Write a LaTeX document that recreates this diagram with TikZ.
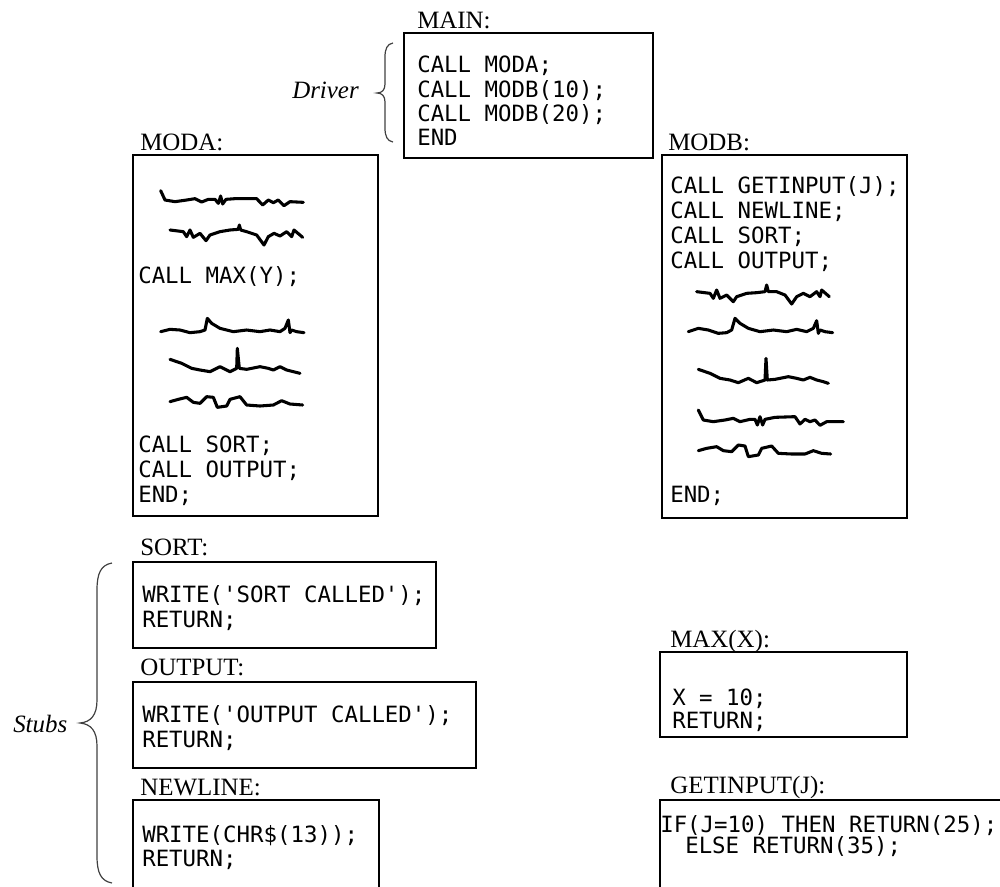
\documentclass[tikz,border=0pt]{standalone}
\usepackage{fontspec}
\setmainfont{Liberation Serif}
\newfontfamily\codefont{DejaVu Sans Mono}
\usetikzlibrary{fit}
\begin{document}
\begin{tikzpicture}[x=0.75pt,y=-0.75pt,
  box/.style={draw, line width=1.8pt, inner sep=0pt},
  code/.style={anchor=base west, inner sep=0pt, font=\codefont\fontsize{16.8}{20}\selectfont},
  lbl/.style={anchor=base west, inner sep=0pt, font=\fontsize{18.7}{22}\selectfont},
  side/.style={anchor=base west, inner sep=0pt, font=\itshape\fontsize{18.7}{22}\selectfont},
  squig/.style={line width=2.3pt, line join=round, line cap=round},
  brace/.style={line width=0.9pt, draw=black!75}]
\useasboundingbox (0,0) rectangle (1000,886);

% boxes
\node[box, fit={(404,33)(653,158)}] (main) {};
\node[box, fit={(133,155)(378,516)}] (moda) {};
\node[box, fit={(662,155)(907,518)}] (modb) {};
\node[box, fit={(133,562)(436,648)}] (sort) {};
\node[box, fit={(133,682)(476,768)}] (output) {};
\node[box, fit={(133,800)(379,892)}] (newline) {};
\node[box, fit={(660,652)(907,737)}] (max) {};
\node[box, fit={(660,800)(1010,892)}] (getinput) {};

% labels
\node[lbl] (lmain) at (417,28) {MAIN:};
\node[lbl] (lmoda) at (140,150) {MODA:};
\node[lbl] (lmodb) at (668,150) {MODB:};
\node[lbl] (lsort) at (140,555) {SORT:};
\node[lbl] (loutput) at (140,675) {OUTPUT:};
\node[lbl] (lnewline) at (140,795) {NEWLINE:};
\node[lbl] (lmax) at (670,647) {MAX(X):};
\node[lbl] (lgetinput) at (670,793) {GETINPUT(J):};
\node[side] (driver) at (292,98) {Driver};
\node[side] (stubs) at (13,732) {Stubs};

% braces
\draw[brace] (393,43) .. controls (387,44) and (385,49) .. (385,57) -- (385,84)
  .. controls (385,90) and (382,93) .. (377,93)
  .. controls (382,93) and (385,96) .. (385,102) -- (385,128)
  .. controls (385,136) and (387,141) .. (393,142);
\draw[brace] (112,563) .. controls (101,565) and (97,573) .. (97,590) -- (97,700)
  .. controls (97,715) and (91,722) .. (80,723)
  .. controls (91,724) and (97,731) .. (97,746) -- (97,856)
  .. controls (97,873) and (101,881) .. (112,883);

% code MAIN
\node[code] (m1) at (417,72) {CALL MODA;};
\node[code] (m2) at (417,97) {CALL MODB(10);};
\node[code] (m3) at (417,121) {CALL MODB(20);};
\node[code] (m4) at (417,145) {END};

% code MODA
\node[code] (a1) at (138,283) {CALL MAX(Y);};
\node[code] (a2) at (138,452) {CALL SORT;};
\node[code] (a3) at (138,477) {CALL OUTPUT;};
\node[code] (a4) at (138,502) {END;};

% code MODB
\node[code] (b1) at (670,193) {CALL GETINPUT(J);};
\node[code] (b2) at (670,218) {CALL NEWLINE;};
\node[code] (b3) at (670,243) {CALL SORT;};
\node[code] (b4) at (670,268) {CALL OUTPUT;};
\node[code] (b5) at (670,502) {END;};

% stubs code
\node[code] (s1) at (142,602) {WRITE('SORT CALLED');};
\node[code] (s2) at (142,627) {RETURN;};
\node[code] (o1) at (142,722) {WRITE('OUTPUT CALLED');};
\node[code] (o2) at (142,747) {RETURN;};
\node[code] (n1) at (142,842) {WRITE(CHR\$(13));};
\node[code] (n2) at (142,866) {RETURN;};
\node[code] (x1) at (672,705) {X = 10;};
\node[code] (x2) at (672,728) {RETURN;};
\node[code] (g1) at (660,832) {IF(J=10) THEN RETURN(25);};
\node[code] (g2) at (685,853) {ELSE RETURN(35);};

% squiggles MODA
\begin{scope}[shift={(120,150)}, x=0.25pt, y=-0.25pt]
\draw[squig] (122,122) -- (135,150) -- (165,155) -- (200,150) -- (225,146) -- (245,156) -- (265,148) -- (285,148) -- (295,160) -- (302,138) -- (308,162) -- (318,148) -- (345,146) -- (410,146) -- (428,165) -- (445,150) -- (460,158) -- (475,150) -- (492,167) -- (510,155) -- (550,157);
\draw[squig] (150,240) -- (190,245) -- (200,260) -- (210,240) -- (220,262) -- (240,250) -- (258,272) -- (270,255) -- (300,245) -- (330,240) -- (355,238) -- (358,225) -- (362,240) -- (380,245) -- (410,255) -- (432,285) -- (445,260) -- (462,250) -- (480,258) -- (500,245) -- (515,260) -- (522,240) -- (548,262);
\draw[squig] (122,545) -- (150,538) -- (180,540) -- (210,548) -- (240,545) -- (255,540) -- (262,505) -- (275,520) -- (300,535) -- (340,545) -- (380,540) -- (420,545) -- (450,540) -- (480,545) -- (495,535) -- (505,510) -- (510,548) -- (515,540) -- (530,545) -- (552,548);
\draw[squig] (150,628) -- (185,640) -- (215,655) -- (240,660) -- (270,665) -- (300,650) -- (330,665) -- (350,655) -- (352,595) -- (358,655) -- (380,658) -- (420,650) -- (445,655) -- (460,660) -- (480,650) -- (500,660) -- (520,665) -- (540,670);
\draw[squig] (150,755) -- (175,748) -- (200,742) -- (220,757) -- (240,760) -- (260,740) -- (280,742) -- (292,772) -- (320,768) -- (330,748) -- (360,740) -- (380,765) -- (420,768) -- (460,765) -- (485,752) -- (510,762) -- (548,765);
\end{scope}

% squiggles MODB
\begin{scope}[shift={(650,150)}, x=0.25pt, y=-0.25pt]
\draw[squig] (140,425) -- (180,430) -- (190,445) -- (200,420) -- (210,445) -- (230,435) -- (250,455) -- (260,440) -- (290,430) -- (320,428) -- (345,425) -- (350,405) -- (355,425) -- (380,425) -- (405,435) -- (425,462) -- (440,440) -- (460,430) -- (480,440) -- (500,425) -- (510,440) -- (515,420) -- (538,440);
\draw[squig] (115,545) -- (145,535) -- (175,540) -- (205,550) -- (230,548) -- (245,540) -- (255,505) -- (270,520) -- (295,535) -- (330,545) -- (370,540) -- (410,545) -- (440,538) -- (470,545) -- (490,535) -- (500,512) -- (505,550) -- (510,540) -- (525,545) -- (548,548);
\draw[squig] (145,658) -- (180,670) -- (210,685) -- (240,690) -- (265,698) -- (295,685) -- (320,698) -- (345,690) -- (348,625) -- (352,690) -- (375,688) -- (415,680) -- (440,685) -- (460,690) -- (480,682) -- (500,690) -- (520,695) -- (535,700);
\draw[squig] (145,780) -- (160,810) -- (190,815) -- (225,810) -- (250,805) -- (270,815) -- (300,808) -- (315,808) -- (322,825) -- (330,800) -- (338,825) -- (345,808) -- (375,802) -- (435,800) -- (450,822) -- (465,808) -- (480,815) -- (495,810) -- (510,826) -- (530,815) -- (580,815);
\draw[squig] (145,902) -- (170,895) -- (200,890) -- (220,902) -- (245,905) -- (265,885) -- (285,888) -- (295,920) -- (325,915) -- (335,895) -- (365,888) -- (385,910) -- (425,912) -- (465,912) -- (490,902) -- (515,910) -- (542,912);
\end{scope}
\end{tikzpicture}
\end{document}
